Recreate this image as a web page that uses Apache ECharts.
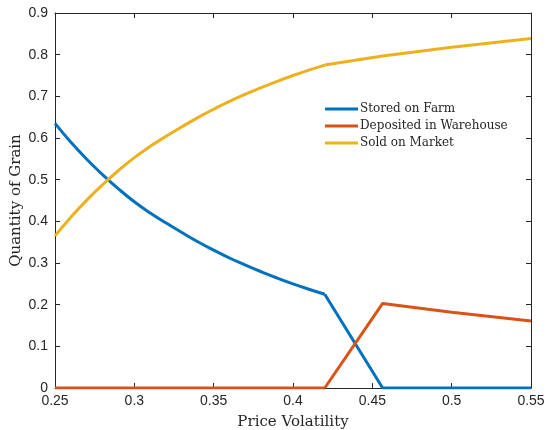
<!DOCTYPE html>
<html>
<head>
<meta charset="utf-8">
<script src="https://cdn.jsdelivr.net/npm/echarts@6/dist/echarts.min.js"></script>
<style>
html,body{margin:0;padding:0;background:#fff;}
#chart{width:547px;height:430px;}
</style>
</head>
<body>
<div id="chart"></div>
<script>
// Price volatility sample points
const volatility = [0.25,0.26,0.27,0.28,0.29,0.30,0.31,0.32,0.33,0.34,0.35,0.36,0.37,0.38,0.39,0.40,0.41,0.42,0.4565,0.50,0.55];
// Quantities of grain for each use
const storedOnFarm = [0.635,0.590,0.549,0.512,0.478,0.447,0.420,0.396,0.373,0.351,0.331,0.312,0.295,0.279,0.264,0.250,0.237,0.225,0,0,0];
const depositedInWarehouse = [0,0,0,0,0,0,0,0,0,0,0,0,0,0,0,0,0,0,0.203,0.182,0.161];
const soldOnMarket = [0.365,0.410,0.451,0.488,0.522,0.553,0.580,0.604,0.627,0.649,0.669,0.688,0.705,0.721,0.736,0.750,0.763,0.775,0.797,0.818,0.839];

// Regime switch: warehouse deposits start at this sample index (volatility 0.42)
const kinkIndex = 17;

const xTicks = ['0.25','0.3','0.35','0.4','0.45','0.5','0.55'];
const yTicks = ['0','0.1','0.2','0.3','0.4','0.5','0.6','0.7','0.8','0.9'];

const seriesNames = ['Stored on Farm','Deposited in Warehouse','Sold on Market'];
const seriesColors = ['#0072BD','#D95319','#EDB120'];
const seriesValues = [storedOnFarm, depositedInWarehouse, soldOnMarket];

const axisColor = '#262626';
const serif = '"DejaVu Serif", "Liberation Serif", serif';
const sans = '"Liberation Sans", Arial, sans-serif';

function pairs(ys, from, to){
  const out = [];
  for (let i = from; i < to; i++) out.push([volatility[i], ys[i]]);
  return out;
}

const chart = echarts.init(document.getElementById('chart'), null, {renderer:'canvas'});
const baseX = {
  type:'value', min:0.25, max:0.55, interval:0.05,
  axisLine:{show:true, onZero:false, lineStyle:{color:axisColor, width:1}},
  axisTick:{show:true, inside:true, length:5, lineStyle:{color:axisColor}},
  splitLine:{show:false}
};
const baseY = {
  type:'value', min:0, max:0.9, interval:0.1,
  axisLine:{show:true, onZero:false, lineStyle:{color:axisColor, width:1}},
  axisTick:{show:true, inside:true, length:5, lineStyle:{color:axisColor}},
  splitLine:{show:false}
};

// Each quantity: smooth curve before the regime switch, straight pieces after it
const series = [];
seriesNames.forEach((n, i) => {
  const common = {
    name:n, type:'line', xAxisIndex:0, yAxisIndex:0,
    showSymbol:false, symbol:'none',
    lineStyle:{color:seriesColors[i], width:3},
    itemStyle:{color:seriesColors[i]},
    z:2+i
  };
  series.push(Object.assign({}, common, {
    data:pairs(seriesValues[i], 0, kinkIndex + 1),
    smooth:0.5
  }));
  series.push(Object.assign({}, common, {
    data:pairs(seriesValues[i], kinkIndex, volatility.length),
    smooth:false
  }));
});

chart.setOption({
  animation:false,
  backgroundColor:'#ffffff',
  grid:{left:55, right:16, top:13, bottom:42, containLabel:false, outerBoundsMode:'none'},
  legend:{
    show:true,
    data:seriesNames,
    orient:'vertical',
    left:320, top:98,
    itemWidth:33, itemHeight:3, itemGap:5,
    icon:'rect',
    textStyle:{fontFamily:serif, fontSize:12, color:'#262626', padding:[0,0,0,-3]}
  },
  xAxis:[
    Object.assign({}, baseX, {
      position:'bottom',
      name:'Price Volatility', nameLocation:'middle', nameGap:27, nameMoveOverlap:false,
      nameTextStyle:{fontFamily:serif, fontSize:15, color:'#262626'},
      axisLabel:{show:true, margin:6, fontFamily:sans, fontSize:14, color:'#262626',
        formatter:(v)=>{ const i=Math.round((v-0.25)/0.05); return xTicks[i]; }}
    }),
    Object.assign({}, baseX, {position:'top', axisLabel:{show:false}})
  ],
  yAxis:[
    Object.assign({}, baseY, {
      position:'left',
      name:'Quantity of Grain', nameLocation:'middle', nameGap:31, nameMoveOverlap:false,
      nameTextStyle:{fontFamily:serif, fontSize:15, color:'#262626'},
      axisLabel:{show:true, margin:7, fontFamily:sans, fontSize:14, color:'#262626',
        formatter:(v)=>yTicks[Math.round(v*10)]}
    }),
    Object.assign({}, baseY, {position:'right', axisLabel:{show:false}})
  ],
  series: series
});
</script>
</body>
</html>
